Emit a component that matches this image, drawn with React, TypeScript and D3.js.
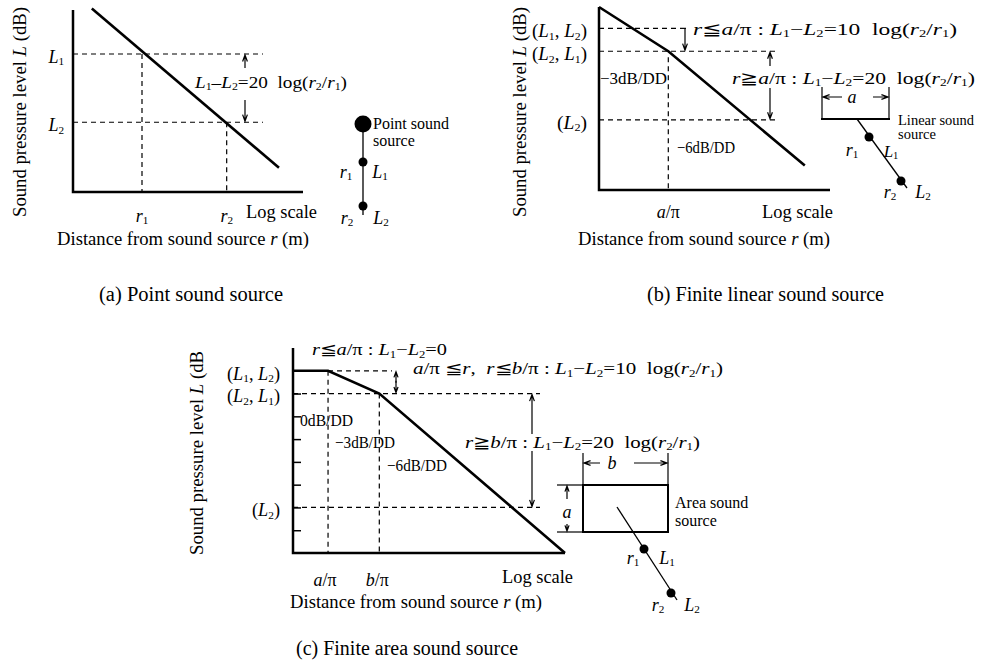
import React, { useEffect, useRef } from "react";
import * as d3 from "d3";

// values: x = distance in doubling-distance units (log axis), y = level in dB
const pointLine = [{ x: 0.36, y: 24.2 }, { x: 3.94, y: 3.2 }];
const pointDist = [1.32, 2.94]; // r1, r2
const pointLevel = [18.2, 9.2]; // L1, L2
const pointLevelLabels = ["*L*_1", "*L*_2"];
const pointDistLabels = ["*r*_1", "*r*_2"];

const linearLine = [{ x: 0, y: 24 }, { x: 1.32, y: 18.2 }, { x: 3.92, y: 3.2 }];
const linearBreak = [1.32]; // a/pi
const linearLevel = [21.2, 18.2, 9.2];
const linearLevelLabels = ["(*L*_1, *L*_2)", "(*L*_2, *L*_1)", "(*L*_2)"];

const areaLine = [{ x: 0, y: 24 }, { x: 0.67, y: 24 }, { x: 1.65, y: 21 }, { x: 5.2, y: 0 }];
const areaBreak = [0.67, 1.65]; // a/pi, b/pi
const areaLevel = [24, 21, 6];
const areaLevelLabels = ["(*L*_1, *L*_2)", "(*L*_2, *L*_1)", "(*L*_2)"];
const areaTicks = [3, 6, 9, 12, 15, 18, 21];

const SERIF = "'Liberation Serif', 'Times New Roman', 'DejaVu Serif', serif";
const yTitle = "Sound pressure level *L* (dB)";
const xTitle = "Distance from sound source *r* (m)";

// text with *italic* runs and _1 style subscripts
function rich(g: any, str: string, x: number, cy: number, size: number, opt: any = {}) {
  const t = g.append("text")
    .attr("x", x).attr("y", cy + size * 0.33)
    .attr("font-family", SERIF).attr("font-size", size)
    .attr("text-anchor", opt.anchor || "start")
    .attr("fill", "#000")
    .style("white-space", "pre");
  if (opt.len) t.attr("textLength", opt.len).attr("lengthAdjust", "spacingAndGlyphs");
  let italic = false, cur = 0, i = 0;
  while (i < str.length) {
    const c = str[i];
    if (c === "*") { italic = !italic; i++; continue; }
    if (c === "_") {
      const d = size * 0.14;
      t.append("tspan").attr("font-size", size * 0.62).attr("font-style", "normal")
        .attr("dy", d - cur).text(str[i + 1]);
      cur = d;
      i += 2;
      continue;
    }
    let j = i, run = "";
    while (j < str.length && str[j] !== "*" && str[j] !== "_") run += str[j++];
    const sp = t.append("tspan").attr("font-style", italic ? "italic" : "normal").text(run);
    if (cur) { sp.attr("dy", -cur); cur = 0; }
    i = j;
  }
  return t;
}

function vtitle(g: any, str: string, cx: number, cy: number, size: number, len: number, anchor = "middle") {
  const gg = g.append("g").attr("transform", `translate(${cx},${cy}) rotate(-90)`);
  rich(gg, str, 0, 0, size, { anchor, len });
}

function line(g: any, x1: number, y1: number, x2: number, y2: number, w = 1.2, dash = false) {
  const l = g.append("line").attr("x1", x1).attr("y1", y1).attr("x2", x2).attr("y2", y2)
    .attr("stroke", "#000").attr("stroke-width", w);
  if (dash) l.attr("stroke-dasharray", "5,4");
  return l;
}

function arrow(g: any, x1: number, y1: number, x2: number, y2: number, head = 7) {
  const a = Math.atan2(y2 - y1, x2 - x1);
  const p = d3.path();
  p.moveTo(x1, y1); p.lineTo(x2, y2);
  p.moveTo(x2 - head * Math.cos(a - 0.35), y2 - head * Math.sin(a - 0.35));
  p.lineTo(x2, y2);
  p.lineTo(x2 - head * Math.cos(a + 0.35), y2 - head * Math.sin(a + 0.35));
  g.append("path").attr("d", p.toString()).attr("fill", "none")
    .attr("stroke", "#000").attr("stroke-width", 1.2);
}

function dot(g: any, x: number, y: number, r: number) {
  g.append("circle").attr("cx", x).attr("cy", y).attr("r", r).attr("fill", "#000");
}

function curve(g: any, data: any[], x: any, y: any) {
  const gen = d3.line<any>().x(d => x(d.x)).y(d => y(d.y));
  g.append("path").attr("d", gen(data)).attr("fill", "none")
    .attr("stroke", "#000").attr("stroke-width", 2.6).attr("stroke-linejoin", "miter");
}

function frame(g: any, x0: number, yTop: number, yBot: number, xEnd: number) {
  g.append("path").attr("d", `M${x0},${yTop}V${yBot}H${xEnd}`).attr("fill", "none")
    .attr("stroke", "#000").attr("stroke-width", 2.5);
}

function drawPoint(g: any) {
  const x = d3.scaleLinear().domain([0, 4.4]).range([73, 303]);
  const y = d3.scaleLinear().domain([0, 24]).range([192, 10]);
  frame(g, x(0), 10, y(0), x(4.4));
  pointLevel.forEach((v, i) => {
    line(g, x(0), y(v), 263, y(v), 1.2, true);
    line(g, x(pointDist[i]), y(v), x(pointDist[i]), y(0), 1.2, true);
    rich(g, pointLevelLabels[i], 64, y(v) + 3, 18, { anchor: "end" });
    rich(g, pointDistLabels[i], x(pointDist[i]), 216, 18, { anchor: "middle" });
  });
  curve(g, pointLine, x, y);
  arrow(g, 245, 68, 245, y(pointLevel[0]) + 1);
  arrow(g, 245, 100, 245, y(pointLevel[1]) - 1);
  rich(g, "*L*_1–*L*_2=20  log(*r*_2/*r*_1)", 195, 82, 17, { len: 152 });
  rich(g, "Log scale", 246, 212, 18, { len: 71 });
  rich(g, xTitle, 57, 239, 18, { len: 252 });
  vtitle(g, yTitle, 20, 112, 18.5, 210);

  // point source sketch
  line(g, 363, 124, 363, 215, 1.3);
  dot(g, 363, 124, 8.5);
  dot(g, 363, 162, 4.5);
  dot(g, 363, 206, 4.5);
  rich(g, "Point sound", 373, 124, 16);
  rich(g, "source", 373, 141, 16);
  rich(g, "*r*_1", 346, 172, 18, { anchor: "middle" });
  rich(g, "*L*_1", 380, 172, 18, { anchor: "middle" });
  rich(g, "*r*_2", 347, 218, 18, { anchor: "middle" });
  rich(g, "*L*_2", 381, 218, 18, { anchor: "middle" });
}

function drawLinear(g: any) {
  const x = d3.scaleLinear().domain([0, 4.4]).range([599, 830]);
  const y = d3.scaleLinear().domain([0, 24]).range([190, 7]);
  frame(g, x(0), y(24), y(0), x(4.4));
  line(g, x(0), y(linearLevel[0]), 680, y(linearLevel[0]), 1.2, true);
  line(g, 680, y(linearLevel[0]), 686, y(linearLevel[0]), 1.2);
  arrow(g, 685, y(linearLevel[0]), 685, y(linearLevel[1]) - 1);
  line(g, x(0), y(linearLevel[1]), 778, y(linearLevel[1]), 1.2, true);
  line(g, x(0), y(linearLevel[2]), 778, y(linearLevel[2]), 1.2, true);
  line(g, x(linearBreak[0]), y(linearLevel[1]) + 6, x(linearBreak[0]), y(0), 1.2, true);
  linearLevelLabels.forEach((s, i) => {
    rich(g, s, 587, y(linearLevel[i]) + 3, 18, { anchor: "end", len: i < 2 ? 55 : 30 });
  });
  curve(g, linearLine, x, y);
  arrow(g, 770, 66, 770, y(linearLevel[1]) + 1);
  arrow(g, 770, 88, 770, y(linearLevel[2]) - 1);
  rich(g, "−3dB/DD", 600, 78, 17, { len: 67 });
  rich(g, "−6dB/DD", 677, 147, 17, { len: 58 });
  rich(g, "*r*≦*a*/π : *L*_1−*L*_2=10  log(*r*_2/*r*_1)", 693, 29, 17, { len: 264 });
  rich(g, "*r*≧*a*/π : *L*_1−*L*_2=20  log(*r*_2/*r*_1)", 732, 78, 17, { len: 243 });
  rich(g, "*a*/π", x(linearBreak[0]), 212, 18, { anchor: "middle" });
  rich(g, "Log scale", 762, 212, 18, { len: 71 });
  rich(g, xTitle, 578, 239, 18, { len: 252 });
  vtitle(g, yTitle, 520, 112, 18.5, 210);

  // linear source sketch
  line(g, 822, 87, 822, 119, 1.2);
  line(g, 889, 87, 889, 119, 1.2);
  line(g, 821, 119, 890, 119, 2.2);
  arrow(g, 842, 97, 823, 97);
  arrow(g, 873, 97, 888, 97);
  rich(g, "*a*", 852, 97, 18, { anchor: "middle" });
  line(g, 857, 119, 907, 188, 1.3);
  dot(g, 869, 137, 4.5);
  dot(g, 901, 181, 4.5);
  rich(g, "Linear sound", 898, 120, 14.5);
  rich(g, "source", 898, 134, 14.5);
  rich(g, "*r*_1", 852, 150, 18, { anchor: "middle" });
  rich(g, "*L*_1", 891, 151, 17, { anchor: "middle" });
  rich(g, "*r*_2", 890, 192, 18, { anchor: "middle" });
  rich(g, "*L*_2", 923, 192, 18, { anchor: "middle" });
}

function drawArea(g: any) {
  const x = d3.scaleLinear().domain([0, 5.2]).range([293, 565]);
  const y = d3.scaleLinear().domain([0, 27]).range([553, 348]);
  const ax = g.append("g").attr("transform", `translate(${x(0)},0)`)
    .call(d3.axisRight(y).tickValues(areaTicks).tickSize(8).tickFormat(() => ""));
  ax.select(".domain").remove();
  ax.selectAll("line").attr("stroke-width", 1.5);
  frame(g, x(0), y(27), y(0), x(5.2));
  line(g, x(areaBreak[0]), y(areaLevel[0]), 392, y(areaLevel[0]), 1.2, true);
  line(g, x(0), y(areaLevel[1]), 540, y(areaLevel[1]), 1.2, true);
  line(g, x(0), y(areaLevel[2]), 540, y(areaLevel[2]), 1.2, true);
  line(g, x(areaBreak[0]), y(areaLevel[0]), x(areaBreak[0]), y(0), 1.2, true);
  line(g, x(areaBreak[1]), y(areaLevel[1]), x(areaBreak[1]), y(0), 1.2, true);
  areaLevelLabels.forEach((s, i) => {
    rich(g, s, 280, y(areaLevel[i]) + 3, 18, { anchor: "end", len: i < 2 ? 53 : 28 });
  });
  curve(g, areaLine, x, y);
  arrow(g, 396, y(areaLevel[0]) + 12, 396, y(areaLevel[0]) + 1, 6);
  arrow(g, 396, y(areaLevel[0]) + 10, 396, y(areaLevel[1]) - 1, 6);
  arrow(g, 532, 434, 532, y(areaLevel[1]) + 1);
  arrow(g, 532, 451, 532, y(areaLevel[2]) - 1);
  rich(g, "0dB/DD", 300, 420, 17, { len: 53 });
  rich(g, "−3dB/DD", 335, 442, 17, { len: 60 });
  rich(g, "−6dB/DD", 387, 465, 17, { len: 60 });
  rich(g, "*r*≦*a*/π : *L*_1−*L*_2=0", 312, 350, 16, { len: 135 });
  rich(g, "*a*/π ≦*r*,  *r*≦*b*/π : *L*_1−*L*_2=10  log(*r*_2/*r*_1)", 413, 369, 16, { len: 310 });
  rich(g, "*r*≧*b*/π : *L*_1−*L*_2=20  log(*r*_2/*r*_1)", 465, 442, 17, { len: 235 });
  rich(g, "*a*/π", x(areaBreak[0]) - 3, 580, 18, { anchor: "middle" });
  rich(g, "*b*/π", x(areaBreak[1]) - 2, 580, 18, { anchor: "middle" });
  rich(g, "Log scale", 502, 577, 18, { len: 71 });
  rich(g, xTitle, 290, 602, 18, { len: 252 });
  vtitle(g, "Sound pressure level *L* (dB", 197, 555, 18.5, 204, "start");

  // area source sketch
  g.append("rect").attr("x", 583).attr("y", 485).attr("width", 85).attr("height", 47)
    .attr("fill", "none").attr("stroke", "#000").attr("stroke-width", 2);
  line(g, 583, 453, 583, 485, 1.2);
  line(g, 668, 453, 668, 485, 1.2);
  arrow(g, 600, 463, 584, 463);
  arrow(g, 634, 463, 667, 463);
  rich(g, "*b*", 612, 463, 18, { anchor: "middle" });
  line(g, 557, 485, 583, 485, 1.2);
  line(g, 557, 532, 583, 532, 1.2);
  arrow(g, 567, 499, 567, 486, 6);
  arrow(g, 567, 524, 567, 531, 6);
  rich(g, "*a*", 567, 512, 18, { anchor: "middle" });
  line(g, 617, 507, 677, 600, 1.3);
  dot(g, 644, 549, 4.5);
  dot(g, 671, 593, 4.5);
  rich(g, "Area sound", 675, 503, 16);
  rich(g, "source", 675, 521, 16);
  rich(g, "*r*_1", 633, 558, 18, { anchor: "middle" });
  rich(g, "*L*_1", 667, 558, 18, { anchor: "middle" });
  rich(g, "*r*_2", 658, 605, 18, { anchor: "middle" });
  rich(g, "*L*_2", 692, 605, 18, { anchor: "middle" });
}

export default function App() {
  const ref = useRef<SVGSVGElement>(null);
  useEffect(() => {
    const svg = d3.select(ref.current);
    svg.selectAll("*").remove();
    svg.append("rect").attr("width", 986).attr("height", 662).attr("fill", "#fff");
    const g = svg.append("g");
    drawPoint(g);
    drawLinear(g);
    drawArea(g);
    rich(g, "(a) Point sound source", 99, 294, 20, { len: 184 });
    rich(g, "(b) Finite linear sound source", 647, 294, 20, { len: 237 });
    rich(g, "(c) Finite area sound source", 518, 648, 20, { anchor: "end", len: 222 });
  }, []);
  return (
    <svg ref={ref} width={986} height={662}
      style={{ position: "absolute", left: 0, top: 0, background: "#fff" }} />
  );
}
